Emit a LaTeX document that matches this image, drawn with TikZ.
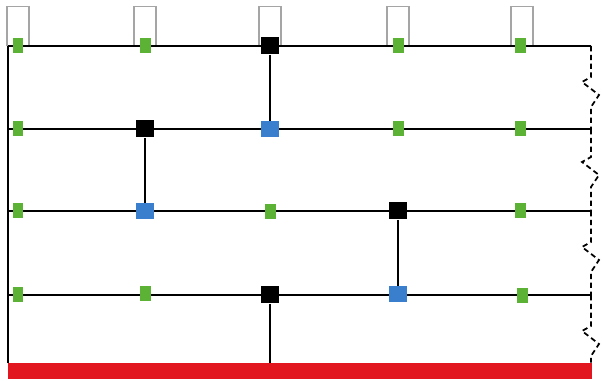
\documentclass[tikz,border=0pt]{standalone}
\usetikzlibrary{positioning}
\tikzstyle{plan} = [x = 0.02cm, y = -0.02cm]
\definecolor{plateGreen}{RGB}{92,178,52}
\definecolor{plateBlue}{RGB}{58,126,206}
\definecolor{baseRed}{RGB}{226,22,30}
\definecolor{boxGray}{RGB}{165,165,165}
\tikzstyle{railLine} = [color=black, line width=1.2pt]
\tikzstyle{breakLine} = [color=black, line width=1pt, dash pattern=on 3pt off 2pt]
\tikzstyle{greenPlate} = [fill=plateGreen, inner sep=0pt, minimum width=.22cm, minimum height=.3cm]
\tikzstyle{blackPlate} = [fill=black, inner sep=0pt, minimum width=.36cm, minimum height=.34cm]
\tikzstyle{bluePlate} = [fill=plateBlue, inner sep=0pt, minimum width=.36cm, minimum height=.32cm]
\tikzstyle{topBox} = [draw=boxGray, line width=.6pt, fill=white, inner sep=0pt, minimum width=.44cm, minimum height=.78cm, anchor=south]
\tikzstyle{baseBar} = [fill=baseRed, inner sep=0pt, minimum width=11.68cm, minimum height=.32cm]
\newcommand{\plate}[4]{\node [#2] (#1) at (#3,#4) {};}
\newcommand{\breakMark}[3]{\draw [breakLine] (#1) -- ++(0,#3) -- ++(-9,5) -- ++(17,13) -- ++(-8,12) -- (#2);}
\begin{document}
\begin{tikzpicture}[plan]
  \useasboundingbox (0,0) rectangle (602,381);
  \node [baseBar] (bar) at (300,371) {};
  % boxes on top
  \foreach \col/\xpos in {1/18,2/145,3/270,4/398,5/522} {
    \node [topBox] (t\col) at (\xpos,46) {};
  }
  % rails
  \foreach \row/\ypos in {1/46,2/129,3/211,4/295} {
    \coordinate (l\row) at (8,\ypos);
    \coordinate (r\row) at (591,\ypos);
    \draw [railLine] (l\row) -- (r\row);
  }
  \draw [railLine] (l1) -- (l1 |- bar.north);
  % plates
  \plate{p11}{greenPlate}{18}{46}\plate{p12}{greenPlate}{145}{46}\plate{p13}{blackPlate}{270}{46}\plate{p14}{greenPlate}{398}{46}\plate{p15}{greenPlate}{520}{46}
  \plate{p21}{greenPlate}{18}{129}\plate{p22}{blackPlate}{145}{129}\plate{p23}{bluePlate}{270}{129}\plate{p24}{greenPlate}{398}{129}\plate{p25}{greenPlate}{520}{129}
  \plate{p31}{greenPlate}{18}{211}\plate{p32}{bluePlate}{145}{211}\plate{p33}{greenPlate}{270}{212}\plate{p34}{blackPlate}{398}{211}\plate{p35}{greenPlate}{520}{211}
  \plate{p41}{greenPlate}{18}{295}\plate{p42}{greenPlate}{145}{294}\plate{p43}{blackPlate}{270}{295}\plate{p44}{bluePlate}{398}{294}\plate{p45}{greenPlate}{522}{296}
  % links
  \draw [railLine] (p13) -- (p23);
  \draw [railLine] (p22) -- (p32);
  \draw [railLine] (p34) -- (p44);
  \draw [railLine] (p43) -- (p43 |- bar.north);
  % breaks on the right
  \breakMark{r1}{r2}{31}
  \breakMark{r2}{r3}{28}
  \breakMark{r3}{r4}{31}
  \breakMark{r4}{r4 |- bar.north}{31}
\end{tikzpicture}
\end{document}
